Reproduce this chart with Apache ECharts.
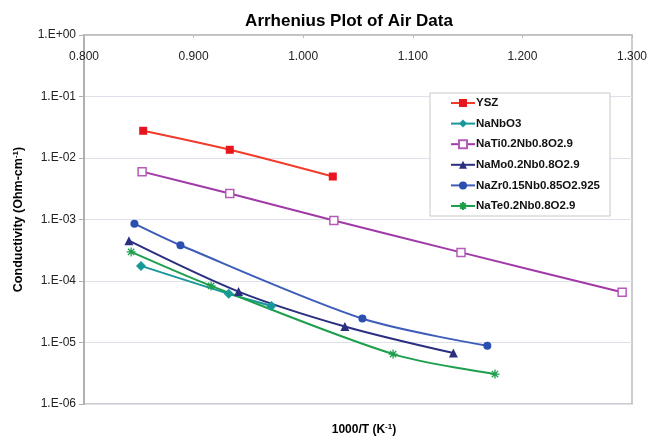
<!DOCTYPE html>
<html>
<head>
<meta charset="utf-8">
<script src="https://cdn.jsdelivr.net/npm/echarts@6/dist/echarts.min.js"></script>
<style>
html,body{margin:0;padding:0;background:#fff;}
#c{width:652px;height:439px;}
</style>
</head>
<body>
<div id="c"></div>
<script>
// Data: [1000/T, conductivity]
const ysz = [[0.854, 0.0277], [0.933, 0.0136], [1.027, 0.0050]];
const naNbO3 = [[0.852, 1.76e-4], [0.932, 6.2e-5], [0.971, 3.94e-5]];
const naTi = [[0.853, 0.0060], [0.933, 0.00264], [1.028, 0.000964], [1.144, 0.000292], [1.291, 6.55e-5]];
const naMo = [[0.841, 4.53e-4], [0.941, 6.73e-5], [1.038, 1.82e-5], [1.137, 6.73e-6]];
const naZr = [[0.846, 8.55e-4], [0.888, 3.81e-4], [1.054, 2.45e-5], [1.168, 8.84e-6]];
const naTe = [[0.843, 2.97e-4], [0.916, 8.32e-5], [1.082, 6.48e-6], [1.175, 3.07e-6]];
const seriesNames = ['YSZ', 'NaNbO3', 'NaTi0.2Nb0.8O2.9', 'NaMo0.2Nb0.8O2.9', 'NaZr0.15Nb0.85O2.925', 'NaTe0.2Nb0.8O2.9'];
const xTicks = { min: 0.8, max: 1.3, interval: 0.1 };
const yTicks = { min: 1e-6, max: 1 };

const asterisk = 'path://M5,0L5,10M0,5L10,5M1.5,1.5L8.5,8.5M1.5,8.5L8.5,1.5';

const chart = echarts.init(document.getElementById('c'));
const FONT = 'Liberation Sans, Arial, sans-serif';

function yFmt(v) {
  const e = Math.round(Math.log10(v));
  const a = Math.abs(e);
  return '1.E' + (e >= 0 ? '+' : '-') + (a < 10 ? '0' : '') + a;
}

chart.setOption({
  backgroundColor: '#fff',
  animation: false,
  textStyle: { fontFamily: FONT },
  title: [
    {
      text: 'Arrhenius Plot of Air Data',
      left: 344, top: 8, textAlign: 'center',
      textStyle: { fontSize: 17, fontWeight: 'bold', color: '#000', fontFamily: FONT }
    },
    {
      text: '1000/T (K{sup|-1})',
      left: 359, top: 418, textAlign: 'center',
      textStyle: {
        fontSize: 12, fontWeight: 'bold', color: '#000', fontFamily: FONT,
        rich: { sup: { fontSize: 8, fontWeight: 'bold', verticalAlign: 'top', padding: [0, 0, 6, 0], color: '#000' } }
      }
    }
  ],
  legend: {
    orient: 'vertical',
    left: 430, top: 93,
    padding: [4, 10, 4, 20],
    itemGap: 8.6,
    itemWidth: 24, itemHeight: 10,
    backgroundColor: '#fff',
    borderColor: '#c8c8c8', borderWidth: 1,
    textStyle: { fontSize: 11.5, fontWeight: 'bold', color: '#111', fontFamily: FONT, padding: [0, 0, 0, -4] },
    data: seriesNames
  },
  grid: {
    left: 84, right: 20, top: 35, bottom: 35,
    show: true, borderColor: '#bdbdbd', borderWidth: 1.5
  },
  xAxis: {
    type: 'value',
    position: 'top',
    min: xTicks.min, max: xTicks.max, interval: xTicks.interval,
    axisLine: { show: true, lineStyle: { color: '#bdbdbd', width: 1.5 } },
    axisTick: { show: true, inside: true, length: 3, lineStyle: { color: '#bdbdbd' } },
    axisLabel: {
      inside: true, margin: 16,
      color: '#222', fontSize: 12, fontFamily: FONT,
      formatter: v => v.toFixed(3)
    },
    splitLine: { show: false }
  },
  yAxis: {
    type: 'log', logBase: 10,
    min: yTicks.min, max: yTicks.max,
    name: 'Conductivity (Ohm-cm{sup|-1})',
    nameLocation: 'middle', nameRotate: 90, nameGap: 58,
    nameTextStyle: {
      fontSize: 12.5, fontWeight: 'bold', color: '#000', fontFamily: FONT,
      rich: { sup: { fontSize: 8, fontWeight: 'bold', verticalAlign: 'top', padding: [0, 0, 6, 0], color: '#000' } }
    },
    axisLine: { show: true, lineStyle: { color: '#b0b0b0', width: 2 } },
    axisTick: { show: true, length: 5, lineStyle: { color: '#b0b0b0' } },
    axisLabel: { color: '#222', fontSize: 12, margin: 8, fontFamily: FONT, formatter: yFmt },
    splitLine: { show: true, lineStyle: { color: '#dfe1ea', width: 1 } },
    minorTick: { show: false }
  },
  series: [
    {
      name: seriesNames[0], type: 'line', data: ysz, smooth: 0.3,
      symbol: 'rect', symbolSize: 8,
      lineStyle: { color: '#F23B2A', width: 2 },
      itemStyle: { color: '#E8141E' }
    },
    {
      name: seriesNames[1], type: 'line', data: naNbO3, smooth: 0.3,
      symbol: 'diamond', symbolSize: 10,
      lineStyle: { color: '#17999A', width: 2 },
      itemStyle: { color: '#17999A' }
    },
    {
      name: seriesNames[2], type: 'line', data: naTi, smooth: 0.3,
      symbol: 'rect', symbolSize: 8,
      lineStyle: { color: '#A03AA6', width: 2 },
      itemStyle: { color: '#fff', borderColor: '#B65BB8', borderWidth: 1.5 }
    },
    {
      name: seriesNames[3], type: 'line', data: naMo, smooth: 0.3,
      symbol: 'triangle', symbolSize: 9,
      lineStyle: { color: '#2B2F80', width: 2 },
      itemStyle: { color: '#2B2F80' }
    },
    {
      name: seriesNames[4], type: 'line', data: naZr, smooth: 0.3,
      symbol: 'circle', symbolSize: 8,
      lineStyle: { color: '#3D5DB8', width: 2 },
      itemStyle: { color: '#2B4FB0' }
    },
    {
      name: seriesNames[5], type: 'line', data: naTe, smooth: 0.3,
      symbol: asterisk, symbolSize: 9,
      lineStyle: { color: '#1E9F4E', width: 2 },
      itemStyle: { color: '#1E9F4E', borderColor: '#1E9F4E', borderWidth: 1.3 }
    }
  ]
});
</script>
</body>
</html>
